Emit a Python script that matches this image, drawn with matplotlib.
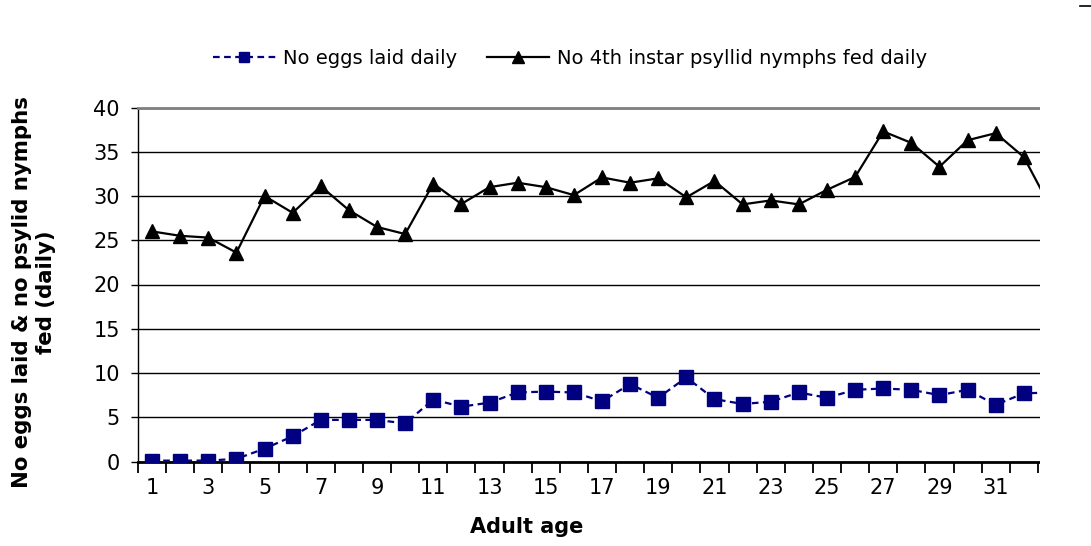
import matplotlib
matplotlib.use('Agg')
import matplotlib.pyplot as plt
from matplotlib.patches import Rectangle
from matplotlib.lines import Line2D

# adult age (days) and daily counts
age = list(range(1, 34))
eggs = [0.1, 0.1, 0.1, 0.3, 1.45, 2.85, 4.7, 4.7, 4.7, 4.3,
        7.0, 6.2, 6.65, 7.8, 7.9, 7.8, 6.8, 8.75, 7.2, 9.5,
        7.05, 6.5, 6.75, 7.8, 7.2, 8.1, 8.25, 8.1, 7.5, 8.1,
        6.4, 7.7, 7.8]
nymphs = [26.0, 25.5, 25.3, 23.6, 30.0, 28.1, 31.1, 28.4, 26.5, 25.7,
          31.4, 29.1, 31.0, 31.5, 31.0, 30.1, 32.1, 31.5, 32.0, 29.85,
          31.7, 29.05, 29.5, 29.05, 30.7, 32.15, 37.3, 36.0, 33.3, 36.3,
          37.1, 34.4, 28.4]

odd_labels = [str(a) for a in age if a % 2 == 1]

W, H = 1091, 546
fig = plt.figure(figsize=(W / 100, H / 100), dpi=100)
ax = fig.add_axes([138 / W, (H - 461.5) / H, (1066 - 138) / W, (461.5 - 107.5) / H])

l1, = ax.plot(age, eggs, color='#000080', linestyle=(0, (3, 2)), linewidth=1.6,
              marker='s', markersize=9.5, label='No eggs laid daily', zorder=3)
l2, = ax.plot(age, nymphs, color='black', linewidth=1.6,
              marker='^', markersize=10, label='No 4th instar psyllid nymphs fed daily', zorder=3)

ax.set_xlim(0.5, 33.5)
ax.set_ylim(0, 40)

# Excel-style category axis: tick marks between categories, labels on odd ages
ax.set_xticks([a - 0.5 for a in age] + [33.5])
ax.set_xticklabels([])
ax.set_xticks([a for a in age if a % 2 == 1], minor=True)
ax.set_xticklabels(odd_labels, minor=True)
ax.tick_params(axis='x', which='major', direction='out', length=8, width=1.3, color='black')
ax.tick_params(axis='x', which='minor', length=0, pad=12, labelsize=15)

ax.set_yticks(range(0, 41, 5))
ax.tick_params(axis='y', direction='out', length=5, width=1, labelsize=15, pad=8)

ax.yaxis.grid(True, color='black', linewidth=1)
ax.set_axisbelow(True)

ax.spines['right'].set_visible(False)
ax.spines['top'].set_color('#808080')
ax.spines['top'].set_linewidth(2)
ax.spines['bottom'].set_linewidth(2)
ax.spines['left'].set_linewidth(1)

ax.set_xlabel('Adult age', fontsize=15, fontweight='bold')
ax.xaxis.set_label_coords((527 - 138) / 928, -(527 - 461.5) / 354, transform=ax.transAxes)
ax.xaxis.label.set_va('center')

fig.text(34 / W, 1 - 292 / H, 'No eggs laid & no psylid nymphs\nfed (daily)',
         rotation=90, ha='center', va='center', multialignment='center',
         fontsize=15.3, fontweight='bold', linespacing=1.3)

fig.legend(handles=[l1, l2], loc='center', bbox_to_anchor=(570 / W, 1 - 58 / H),
           ncol=2, frameon=False, fontsize=14, handlelength=3.2, markerscale=0.8,
           handletextpad=0.4, columnspacing=1.5)

# the source image is cut off on the right
fig.patches.append(Rectangle((1040 / W, 0), 1, 1, transform=fig.transFigure,
                             facecolor='white', edgecolor='none', zorder=10))
fig.lines.append(Line2D([1080 / W, 1], [1 - 6 / H, 1 - 6 / H], transform=fig.transFigure,
                        color='black', linewidth=1.2, zorder=11))

fig.savefig('out.png', dpi=100)
